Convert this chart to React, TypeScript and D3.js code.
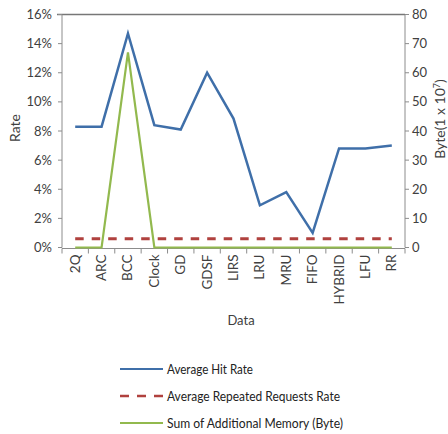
import React from "react";
import * as d3 from "d3";

const categories = ["2Q", "ARC", "BCC", "Clock", "GD", "GDSF", "LIRS", "LRU", "MRU", "FIFO", "HYBRID", "LFU", "RR"];
const hitRate = [8.3, 8.3, 14.7, 8.4, 8.1, 12.0, 8.85, 2.9, 3.8, 1.0, 6.8, 6.8, 7.0];
const repeatedRate = [0.6, 0.6, 0.6, 0.6, 0.6, 0.6, 0.6, 0.6, 0.6, 0.6, 0.6, 0.6, 0.6];
const memoryBytes = [0, 0, 67, 0, 0, 0, 0, 0, 0, 0, 0, 0, 0];
const leftTicks = [0, 2, 4, 6, 8, 10, 12, 14, 16];
const rightTicks = [0, 10, 20, 30, 40, 50, 60, 70, 80];
const legendItems = ["Average Hit Rate", "Average Repeated Requests Rate", "Sum of Additional Memory (Byte)"];

const W = 448;
const H = 434;
const L = 62;
const R = 405;
const T = 14.5;
const B = 247.5;
const FONT = "Lato, 'Open Sans', sans-serif";
const TXT = "#404040";
const AXIS = "#8c8c8c";
const BLUE = "#3f6fa9";
const RED = "#b0413e";
const GREEN = "#92b94e";

export default function App() {
  const x = d3.scaleBand<string>().domain(categories).range([L, R]).padding(0);
  const cx = (c: string) => (x(c) as number) + x.bandwidth() / 2;
  const yL = d3.scaleLinear().domain([0, 16]).range([B, T]);
  const yR = d3.scaleLinear().domain([0, 80]).range([B, T]);

  const lineL = d3.line<number>().x((_, i) => cx(categories[i])).y((d) => yL(d));
  const lineR = d3.line<number>().x((_, i) => cx(categories[i])).y((d) => yR(d));

  const boundaries = categories.map((c) => x(c) as number).concat([R]);

  const legendY = [369, 396, 423];
  const legendWidths = [86, 173, 176];

  return (
    <svg width={W} height={H} style={{ position: "absolute", left: 0, top: 0, background: "#fff" }} fontFamily={FONT}>
      {/* frame */}
      <line x1={57} x2={R} y1={T} y2={T} stroke="#777" strokeWidth={1.5} />
      <line x1={L} x2={L} y1={T} y2={B} stroke={AXIS} strokeWidth={1} />
      <line x1={R} x2={R} y1={T} y2={B} stroke={AXIS} strokeWidth={1} />
      <line x1={L} x2={R} y1={B + 1} y2={B + 1} stroke={AXIS} strokeWidth={1} />

      {/* left axis */}
      {leftTicks.map((t) => (
        <g key={"l" + t}>
          <line x1={L - 4} x2={L} y1={yL(t)} y2={yL(t)} stroke={AXIS} />
          <text x={52} y={yL(t)} dy="0.35em" textAnchor="end" fontSize={13} fill={TXT}>
            {t + "%"}
          </text>
        </g>
      ))}
      <text transform={`translate(20,128) rotate(-90)`} textAnchor="middle" fontSize={14} fill={TXT}>
        Rate
      </text>

      {/* right axis */}
      {rightTicks.map((t) => (
        <g key={"r" + t}>
          <line x1={R} x2={R + 4} y1={yR(t)} y2={yR(t)} stroke={AXIS} />
          <text x={412} y={yR(t)} dy="0.35em" textAnchor="start" fontSize={13} fill={TXT}>
            {t}
          </text>
        </g>
      ))}
      <text transform={`translate(445,119) rotate(-90)`} textAnchor="middle" fontSize={14} fill={TXT}>
        Byte(1 x 10<tspan dy={-5} fontSize={9}>7</tspan><tspan dy={5}>)</tspan>
      </text>

      {/* x axis */}
      {boundaries.map((b, i) => (
        <line key={"xb" + i} x1={b} x2={b} y1={B + 1} y2={B + 6} stroke={AXIS} />
      ))}
      {categories.map((c) => (
        <text
          key={c}
          transform={`translate(${cx(c) + 4.5},${B + 7}) rotate(-90)`}
          textAnchor="end"
          fontSize={13.5}
          fill={TXT}
        >
          {c}
        </text>
      ))}
      <text x={241} y={325} textAnchor="middle" fontSize={13} fill={TXT}>
        Data
      </text>

      {/* series */}
      <path d={lineL(repeatedRate) || ""} fill="none" stroke={RED} strokeWidth={3} strokeDasharray="8.5,8" />
      <path d={lineL(hitRate) || ""} fill="none" stroke={BLUE} strokeWidth={2.5} strokeLinejoin="miter" />
      <path d={lineR(memoryBytes) || ""} fill="none" stroke={GREEN} strokeWidth={2.2} />

      {/* legend */}
      {legendItems.map((name, i) => (
        <g key={name}>
          <line
            x1={120}
            x2={163}
            y1={legendY[i]}
            y2={legendY[i]}
            stroke={[BLUE, RED, GREEN][i]}
            strokeWidth={i === 1 ? 2.5 : 2}
            strokeDasharray={i === 1 ? "9,8" : undefined}
          />
          <text
            x={167}
            y={legendY[i]}
            dy="0.35em"
            fontSize={13}
            fill="#222"
            textLength={legendWidths[i]}
            lengthAdjust="spacingAndGlyphs"
          >
            {name}
          </text>
        </g>
      ))}
    </svg>
  );
}
